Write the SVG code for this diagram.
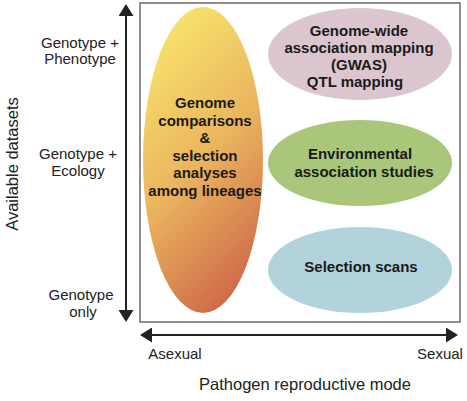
<svg xmlns="http://www.w3.org/2000/svg" width="467" height="401" viewBox="0 0 467 401">
<defs>
<linearGradient id="yg" x1="0.3" y1="0" x2="0.7" y2="1">
<stop offset="0" stop-color="#f8e46c"/>
<stop offset="0.5" stop-color="#eab45e"/>
<stop offset="1" stop-color="#cd6548"/>
</linearGradient>
<marker id="ah" viewBox="0 0 12 15" refX="6" refY="7.5" markerWidth="12" markerHeight="15" markerUnits="userSpaceOnUse" orient="auto-start-reverse">
<path d="M0,0 L12,7.5 L0,15 Z" fill="#222"/>
</marker>
<style>
.lab{font-family:"Liberation Sans",Arial,sans-serif;font-size:15px;fill:#222;text-anchor:middle}
.ax{font-family:"Liberation Sans",Arial,sans-serif;font-size:16.5px;fill:#222;text-anchor:middle}
.bd{font-family:"Liberation Sans",Arial,sans-serif;font-size:15px;font-weight:bold;fill:#1a1a1a;text-anchor:middle}
.arr{stroke:#222;stroke-width:2;fill:none;marker-start:url(#ah);marker-end:url(#ah)}
</style>
</defs>
<rect width="467" height="401" fill="#fff"/>
<g id="frame">
<rect x="140" y="3" width="320" height="319" fill="#fff" stroke="#6a6a6a" stroke-width="1.5"/>
</g>
<g id="connectors">
<line class="arr" x1="126" y1="10" x2="126" y2="316"/>
<line class="arr" x1="146" y1="335" x2="452" y2="335"/>
</g>
<g id="node-genome-comparisons">
<ellipse cx="203" cy="160" rx="60" ry="153" fill="url(#yg)"/>
<text class="bd"><tspan x="205" y="108">Genome</tspan><tspan x="205" y="125.5">comparisons</tspan><tspan x="205" y="143">&amp;</tspan><tspan x="205" y="160.5">selection</tspan><tspan x="205" y="178">analyses</tspan><tspan x="205" y="195.5">among lineages</tspan></text>
</g>
<g id="node-gwas">
<ellipse cx="360" cy="54" rx="92" ry="46" fill="#dbc6cf"/>
<text class="bd"><tspan x="359" y="36">Genome-wide</tspan><tspan x="359" y="53">association mapping</tspan><tspan x="359" y="70">(GWAS)</tspan><tspan x="355" y="87">QTL mapping</tspan></text>
</g>
<g id="node-environmental">
<ellipse cx="360" cy="163" rx="92" ry="43" fill="#a9c67b"/>
<text class="bd"><tspan x="360" y="159">Environmental</tspan><tspan x="364" y="177">association studies</tspan></text>
</g>
<g id="node-selection-scans">
<ellipse cx="360" cy="270" rx="92" ry="43" fill="#b2d3dc"/>
<text class="bd" x="361" y="272">Selection scans</text>
</g>
<g id="y-labels">
<text class="lab"><tspan x="80" y="48">Genotype +</tspan><tspan x="80" y="64">Phenotype</tspan></text>
<text class="lab"><tspan x="78" y="159">Genotype +</tspan><tspan x="78" y="176">Ecology</tspan></text>
<text class="lab"><tspan x="81" y="300">Genotype</tspan><tspan x="83" y="317">only</tspan></text>
<text class="ax" transform="translate(18,164) rotate(-90)" x="0" y="0">Available datasets</text>
</g>
<g id="x-labels">
<text class="lab" x="175" y="359">Asexual</text>
<text class="lab" x="440" y="359">Sexual</text>
<text class="ax" x="305" y="390">Pathogen reproductive mode</text>
</g>
</svg>
